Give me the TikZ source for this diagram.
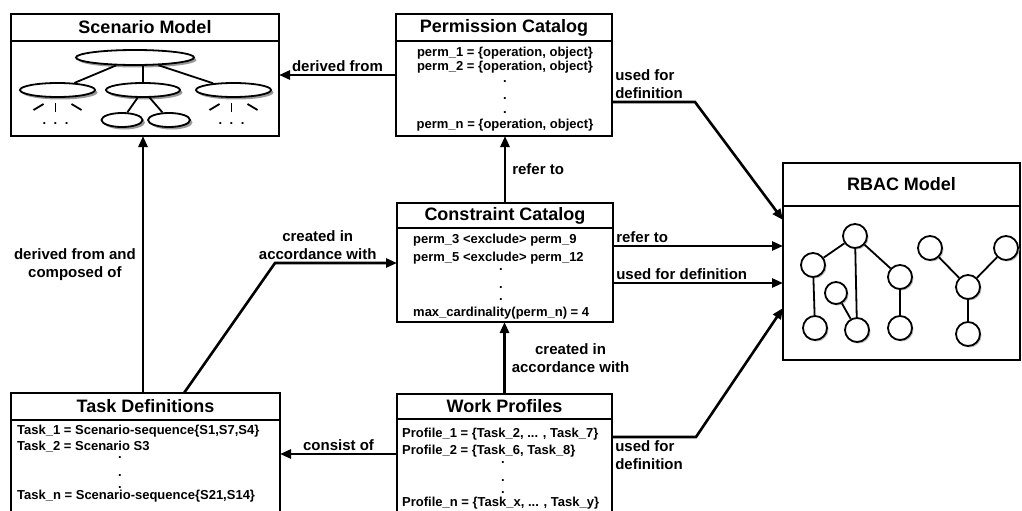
\documentclass[tikz,border=0pt]{standalone}
\usepackage{fontspec}
\setmainfont{Liberation Sans}
\usetikzlibrary{arrows.meta, positioning, shapes.geometric, shadows}

\begin{document}
\begin{tikzpicture}[x=1pt, y=-1pt,
    head/.style={rectangle, draw=black, line width=2.5pt, inner sep=0pt, outer sep=0pt, anchor=north west, font=\fontsize{18}{20}\selectfont\bfseries},
    body/.style={rectangle, draw=black, line width=2.5pt, inner sep=0pt, outer sep=0pt},
    txt/.style={inner sep=0pt, font=\fontsize{13}{15}\selectfont\bfseries, text height=9.5pt, text depth=2.5pt},
    dot/.style={inner sep=0pt, font=\fontsize{13}{15}\selectfont\bfseries},
    lbl/.style={align=center, font=\fontsize{15}{18}\selectfont\bfseries, inner sep=2pt},
    arrow/.style={-{Triangle[length=11pt, width=9pt]}, line width=2.6pt},
    oval/.style={ellipse, draw=black, line width=1.8pt, fill=white, inner sep=0pt, drop shadow={shadow xshift=2.5pt, shadow yshift=-2.5pt, fill=black!40, opacity=1}},
    role/.style={circle, draw=black, line width=1.8pt, fill=white, minimum size=24pt, inner sep=0pt, drop shadow={shadow xshift=1.5pt, shadow yshift=-1.5pt, fill=black!25, opacity=1}},
    link/.style={line width=1.8pt}
  ]
  \useasboundingbox (0,0) rectangle (1022,511);
  \clip (0,0) rectangle (1022,511);

  % scenario model
  \node[head, minimum width=268pt, minimum height=27pt] (scen) at (11,14) {Scenario Model};
  \node[body, minimum width=268pt, minimum height=95pt, below=0pt of scen] (scenbody) {};
  \node[oval, minimum width=118pt, minimum height=15pt] (s0) at (135,57.5) {};
  \node[oval, minimum width=75pt, minimum height=14pt] (s1) at (57.5,90) {};
  \node[oval, minimum width=74pt, minimum height=14pt] (s2) at (143,90) {};
  \node[oval, minimum width=75pt, minimum height=14pt] (s3) at (233.5,90) {};
  \node[oval, minimum width=41pt, minimum height=14pt] (s4) at (122,120) {};
  \node[oval, minimum width=42pt, minimum height=14pt] (s5) at (169,120) {};
  \draw[link] (s0) -- (s1);
  \draw[link] (s0.south -| s2.north) -- (s2);
  \draw[link] (s0) -- (s3);
  \draw[link] (s2) -- (s4);
  \draw[link] (s2) -- (s5);
  \foreach \s in {s1,s3} {
    \draw[link] ([shift={(-14,14)}]\s.center) -- ++(-10,6);
    \draw[link] ([shift={(-2,13)}]\s.center) -- ++(0,9);
    \draw[link] ([shift={(14,14)}]\s.center) -- ++(10,6);
    \node[dot] at ([shift={(-2,34)}]\s.center) {.\hspace{7.5pt}.\hspace{7.5pt}.};
  }

  % permission catalog
  \node[head, minimum width=216pt, minimum height=27pt] (perm) at (396,14) {Permission Catalog};
  \node[body, minimum width=216pt, minimum height=95pt, below=0pt of perm] (permbody) {};
  \node[txt] (p1) at (505,53) {perm\_1 = \{operation, object\}};
  \node[txt] (p2) at (505,67) {perm\_2 = \{operation, object\}};
  \foreach \y in {82,99,113} \node[dot] at (505,\y) {.};
  \node[txt] (pn) at (505,125) {perm\_n = \{operation, object\}};

  % constraint catalog
  \node[head, minimum width=216pt, minimum height=25pt] (cons) at (397,203) {Constraint Catalog};
  \node[body, minimum width=216pt, minimum height=94pt, below=0pt of cons] (consbody) {};
  \node[txt, anchor=west] (c1) at (413,240) {perm\_3 <exclude> perm\_9};
  \node[txt, anchor=west] (c2) at (413,258) {perm\_5 <exclude> perm\_12};
  \foreach \y in {270,288,300} \node[dot] at (501,\y) {.};
  \node[txt, anchor=west] (cn) at (413,313) {max\_cardinality(perm\_n) = 4};

  % rbac model
  \node[head, minimum width=237pt, minimum height=43pt] (rbac) at (783,163) {RBAC Model};
  \node[body, minimum width=237pt, minimum height=154pt, below=0pt of rbac] (rbacbody) {};
  \node[role] (r1) at (855,236) {};
  \node[role] (r2) at (813,265) {};
  \node[role] (r3) at (900,277) {};
  \node[role, minimum size=22pt] (r4) at (836,293) {};
  \node[role] (r5) at (815,328) {};
  \node[role] (r6) at (857,330) {};
  \node[role] (r7) at (900,328) {};
  \node[role] (r8) at (930,248) {};
  \node[role] (r9) at (1006,248) {};
  \node[role] (r10) at (968,287) {};
  \node[role] (r11) at (968,334) {};
  \draw[link] (r1) -- (r2);
  \draw[link] (r1) -- (r6);
  \draw[link] (r1) -- (r3);
  \draw[link] (r2) -- (r5);
  \draw[link] (r4) -- (r6);
  \draw[link] (r3) -- (r7);
  \draw[link] (r8) -- (r10);
  \draw[link] (r9) -- (r10);
  \draw[link] (r10) -- (r11);

  % task definitions
  \node[head, minimum width=269pt, minimum height=27pt] (task) at (11,393) {Task Definitions};
  \node[body, minimum width=269pt, minimum height=100pt, below=0pt of task] (taskbody) {};
  \node[txt, anchor=west] (t1) at (17,431) {Task\_1 = Scenario-sequence\{S1,S7,S4\}};
  \node[txt, anchor=west] (t2) at (17,447) {Task\_2 = Scenario S3};
  \foreach \y in {458,476,488} \node[dot] at (120,\y) {.};
  \node[txt, anchor=west] (tn) at (17,496) {Task\_n = Scenario-sequence\{S21,S14\}};

  % work profiles
  \node[head, minimum width=215pt, minimum height=25pt] (prof) at (397,394) {Work Profiles};
  \node[body, minimum width=215pt, minimum height=100pt, below=0pt of prof] (profbody) {};
  \node[txt, anchor=west] (w1) at (402,434) {Profile\_1 = \{Task\_2, ... , Task\_7\}};
  \node[txt, anchor=west] (w2) at (402,451) {Profile\_2 = \{Task\_6, Task\_8\}};
  \foreach \y in {463,481,493} \node[dot] at (503,\y) {.};
  \node[txt, anchor=west] (wn) at (402,503) {Profile\_n = \{Task\_x, ... , Task\_y\}};

  % connectors
  \draw[arrow] ([shift={(0,-13.5)}]permbody.west) -- ([shift={(0,-13.5)}]scenbody.east)
    node[lbl, midway, above] {derived from};
  \draw[arrow] ([xshift=-2.5pt]task.north) -- ([xshift=-2.5pt]task.north |- scenbody.south)
    node[lbl, midway, left=4pt] {derived from and\\composed of};
  \draw[arrow] ([xshift=173pt]task.north west) -- ([shift={(-122,-12)}]consbody.west)
    -- node[lbl, above, pos=0.35] {created in\\accordance with} ([shift={(0,-12)}]consbody.west);
  \draw[arrow] (cons.north) -- (cons.north |- permbody.south)
    node[lbl, midway, right=4pt] {refer to};
  \draw[arrow] (prof.north) -- (prof.north |- consbody.south)
    node[lbl, midway, right=4pt] {created in\\accordance with};
  \draw[arrow] ([shift={(0,13.5)}]permbody.east) node[lbl, above right, align=left] {used for\\definition}
    -- ++(83,0) -- ([shift={(0,-63)}]rbacbody.west);
  \draw[arrow] ([shift={(0,-29)}]consbody.east) node[lbl, above right] {refer to}
    -- ([shift={(0,-29)}]consbody.east -| rbacbody.west);
  \draw[arrow] ([shift={(0,8)}]consbody.east) node[lbl, above right] {used for definition}
    -- ([shift={(0,8)}]consbody.east -| rbacbody.west);
  \draw[arrow] ([shift={(0,18)}]prof.south east) node[lbl, below right, align=left] {used for\\definition}
    -- ++(84,0) -- ([shift={(0,25)}]rbacbody.west);
  \draw[arrow] ([shift={(0,35)}]prof.south west) -- ([shift={(0,35)}]prof.south west -| task.east)
    node[lbl, midway, above] {consist of};
\end{tikzpicture}
\end{document}
